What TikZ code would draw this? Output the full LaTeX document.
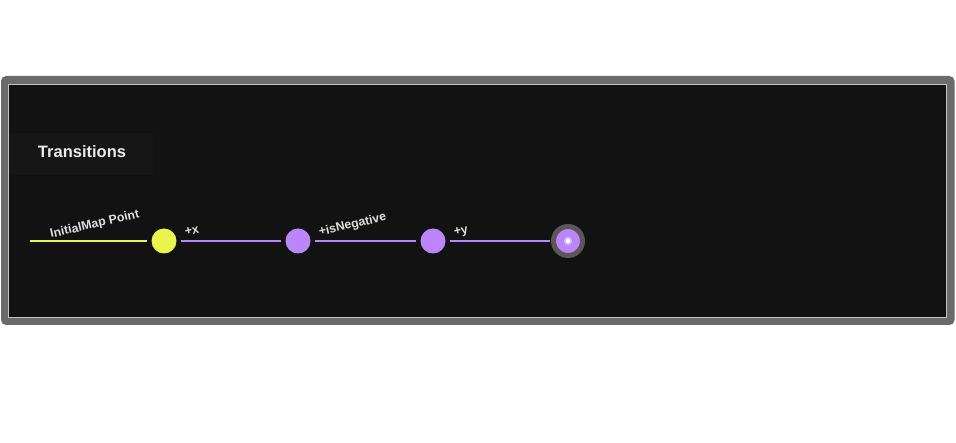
\documentclass[tikz,border=0pt]{standalone}
\usepackage{fontspec}
\setmainfont{Liberation Sans}
\usetikzlibrary{positioning}
\definecolor{panelbg}{HTML}{121212}
\definecolor{titlebg}{HTML}{161616}
\definecolor{framegray}{HTML}{6B6B6B}
\definecolor{edgeline}{HTML}{C4C4C4}
\definecolor{initcol}{HTML}{EAF64E}
\definecolor{statecol}{HTML}{BB86FC}
\definecolor{ringcol}{HTML}{5E5656}
\definecolor{labeltext}{HTML}{DEDEDE}

\begin{document}
\begin{tikzpicture}[x=1pt,y=-1pt,
  state/.style={circle,inner sep=0pt,minimum size=25pt,fill=statecol},
  wire/.style={line width=2pt,statecol,shorten <=4.5pt,shorten >=4.5pt},
  lbl/.style={text=labeltext,font=\bfseries\fontsize{12.3}{12.3}\selectfont,inner sep=0pt,
    anchor=base west,rotate=13}]
  % Page size
  \useasboundingbox (0,0) rectangle (956,443);
  \fill[white] (0,0) rectangle (956,443);
  %
  % Panel
  \fill[framegray,rounded corners=5pt] (1,76) rectangle (954.5,325);
  \draw[edgeline,fill=panelbg,line width=1pt] (8.5,84.5) rectangle (946,317.5);
  \fill[titlebg] (9,133) rectangle (153,175);
  \node[text=labeltext!60!white,font=\bfseries\fontsize{16.5}{16.5}\selectfont] (title) at (82,152) {Transitions};
  %
  % States
  \coordinate (entry) at (30,241);
  \node[state,fill=initcol] (init) at (164,241) {};
  \node[state] (afterx) at (298,241) {};
  \node[state] (afterneg) at (433,241) {};
  \node[state,draw=ringcol,line width=5pt,minimum size=29pt] (current) at (568,241) {};
  \fill[statecol!55!white] (current.center) circle (4pt);
  \fill[white] (current.center) circle (2.2pt);
  %
  % Transitions
  \draw[wire,initcol,shorten <=0pt] (entry) -- (init);
  \node[lbl] (initlbl) at ([shift={(21,-3)}]entry) {InitialMap Point};
  \draw[wire] (init) -- (afterx)
    node[lbl,pos=0,xshift=9pt,yshift=3pt] {+x};
  \draw[wire] (afterx) -- (afterneg)
    node[lbl,pos=0,xshift=9pt,yshift=3pt] {+isNegative};
  \draw[wire,shorten >=1pt] (afterneg) -- (current)
    node[lbl,pos=0,xshift=9pt,yshift=3pt] {+y};
  %
\end{tikzpicture}
\end{document}
